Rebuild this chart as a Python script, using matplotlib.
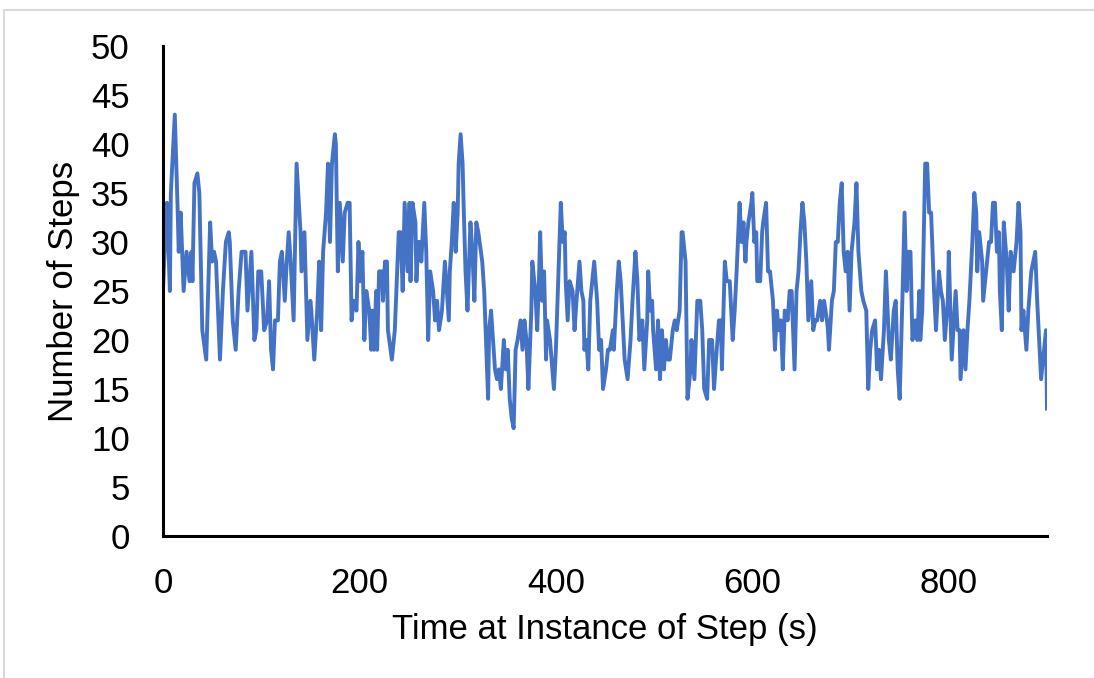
import matplotlib
matplotlib.use("Agg")
import matplotlib.pyplot as plt
from matplotlib.lines import Line2D

time_s = [0, 2, 4, 7, 8, 10, 12, 15, 16, 18, 21, 24, 27, 29, 30, 32, 35, 37, 40, 44,
          46, 48, 50, 52, 54, 58, 61, 64, 67, 68, 71, 74, 77, 80, 84, 86, 90, 93, 95, 97,
          100, 103, 106, 108, 110, 112, 114, 117, 119, 121, 124, 126, 128, 130, 133, 136, 140, 141, 144, 147,
          150, 151, 154, 157, 159, 161, 163, 166, 168, 170, 172, 175, 176, 178, 180, 183, 185, 188, 190, 192,
          194, 197, 199, 201, 203, 205, 207, 210, 212, 213, 215, 217, 218, 220, 223, 224, 226, 228, 229, 233,
          236, 240, 242, 244, 246, 249, 251, 252, 254, 257, 258, 260, 262, 263, 266, 268, 270, 272, 275, 277,
          279, 281, 284, 287, 289, 291, 292, 294, 296, 298, 300, 301, 303, 305, 306, 308, 310, 313, 315, 317,
          319, 321, 325, 327, 331, 332, 334, 336, 338, 340, 342, 344, 347, 349, 351, 353, 355, 357, 359, 361,
          364, 366, 368, 370, 372, 375, 376, 379, 381, 383, 384, 386, 388, 390, 391, 394, 398, 400, 403, 405,
          407, 409, 410, 412, 414, 417, 419, 421, 424, 426, 428, 429, 431, 433, 435, 437, 439, 442, 444, 446,
          448, 451, 453, 455, 458, 459, 462, 464, 466, 468, 470, 473, 476, 478, 481, 483, 485, 488, 490, 493,
          494, 496, 498, 499, 502, 504, 506, 508, 510, 512, 514, 516, 519, 521, 523, 526, 528, 529, 532, 534,
          537, 538, 541, 544, 547, 549, 551, 554, 556, 559, 561, 563, 566, 568, 569, 572, 574, 577, 580, 582,
          584, 587, 589, 591, 593, 594, 596, 599, 600, 602, 604, 605, 608, 610, 611, 614, 616, 618, 621, 623,
          625, 627, 629, 631, 633, 636, 638, 640, 643, 645, 647, 649, 651, 653, 655, 657, 660, 662, 664, 666,
          669, 671, 673, 676, 677, 678, 681, 683, 685, 687, 689, 691, 693, 695, 697, 699, 701, 704, 706, 708,
          711, 713, 716, 718, 720, 722, 725, 727, 729, 731, 734, 736, 739, 741, 744, 746, 748, 750, 753, 755,
          757, 759, 761, 763, 766, 768, 770, 771, 773, 776, 778, 780, 782, 785, 787, 790, 792, 794, 796, 799,
          800, 803, 807, 809, 811, 812, 815, 817, 819, 821, 824, 826, 828, 829, 831, 834, 835, 838, 841, 843,
          845, 847, 849, 851, 852, 854, 856, 859, 861, 863, 866, 869, 871, 873, 874, 876, 879, 881, 884, 886,
          888, 890, 894, 897, 899, 900]

steps = [25, 30, 34, 25, 35, 39, 43, 33, 29, 33, 25, 29, 26, 29, 26, 36, 37, 35, 21, 18,
         25, 32, 28, 29, 28, 18, 25, 30, 31, 30, 22, 19, 25, 29, 29, 23, 29, 20, 21, 27,
         27, 21, 22, 26, 19, 17, 22, 22, 28, 29, 24, 28, 31, 28, 22, 38, 31, 27, 31, 20,
         24, 23, 18, 23, 28, 21, 29, 33, 38, 30, 38, 41, 40, 27, 34, 28, 33, 34, 34, 22,
         24, 23, 30, 26, 29, 20, 25, 23, 19, 23, 19, 25, 19, 27, 27, 24, 28, 28, 21, 18,
         21, 31, 31, 25, 34, 27, 34, 26, 34, 32, 26, 30, 30, 28, 34, 29, 20, 27, 25, 22,
         24, 21, 23, 28, 25, 22, 27, 30, 34, 29, 33, 38, 41, 38, 34, 27, 23, 32, 29, 24,
         32, 31, 28, 25, 14, 21, 23, 20, 17, 16, 17, 15, 20, 17, 19, 14, 12, 11, 19, 20,
         22, 19, 22, 20, 15, 23, 28, 25, 21, 27, 31, 24, 27, 18, 22, 20, 15, 19, 28, 34,
         30, 31, 26, 22, 26, 25, 21, 24, 28, 25, 24, 19, 20, 17, 24, 26, 28, 24, 19, 20,
         15, 17, 19, 19, 21, 19, 25, 28, 26, 22, 18, 16, 20, 24, 29, 26, 20, 22, 17, 22,
         27, 23, 24, 21, 17, 22, 16, 21, 17, 20, 18, 18, 21, 22, 21, 23, 31, 31, 28, 14,
         17, 20, 16, 24, 24, 21, 15, 14, 20, 20, 15, 18, 22, 22, 17, 28, 26, 26, 20, 23,
         27, 34, 30, 32, 28, 30, 32, 34, 35, 30, 31, 26, 26, 31, 32, 34, 27, 27, 24, 19,
         23, 21, 22, 17, 23, 22, 25, 25, 17, 25, 27, 31, 34, 32, 28, 22, 26, 21, 22, 22,
         24, 22, 24, 22, 21, 19, 24, 25, 30, 30, 34, 36, 29, 27, 29, 23, 29, 32, 36, 29,
         25, 24, 23, 15, 19, 21, 22, 17, 19, 16, 21, 27, 20, 18, 23, 24, 17, 14, 25, 33,
         25, 29, 29, 20, 22, 20, 25, 20, 23, 38, 38, 33, 33, 25, 21, 27, 25, 24, 20, 24,
         29, 18, 25, 21, 21, 16, 21, 17, 21, 24, 30, 35, 33, 27, 31, 28, 24, 27, 30, 30,
         34, 34, 29, 31, 25, 21, 32, 28, 23, 29, 27, 30, 34, 31, 21, 23, 19, 23, 27, 28,
         29, 24, 16, 19, 21, 13]

x_ticks = [0, 200, 400, 600, 800]
y_ticks = [0, 5, 10, 15, 20, 25, 30, 35, 40, 45, 50]

plt.rcParams['font.family'] = ['Liberation Sans', 'DejaVu Sans']

W, H = 1094, 678
fig = plt.figure(figsize=(W / 100, H / 100), dpi=100)
ax = fig.add_axes([163 / W, 1 - 536 / H, (1047 - 163) / W, (536 - 46) / H])

ax.plot(time_s, steps, color='#4472C4', linewidth=2.8, solid_joinstyle='round')

ax.set_xlim(0, 900)
ax.set_ylim(0, 50)
ax.set_xticks(x_ticks)
ax.set_yticks(y_ticks)
ax.tick_params(axis='both', length=0, labelsize=25, colors='black')
ax.tick_params(axis='x', pad=22)
ax.tick_params(axis='y', pad=24)
for s in ['top', 'right']:
    ax.spines[s].set_visible(False)
for s in ['left', 'bottom']:
    ax.spines[s].set_linewidth(2.2)
    ax.spines[s].set_color('black')

ax.set_xlabel('Time at Instance of Step (s)', fontsize=25, labelpad=10)
ax.set_ylabel('Number of Steps', fontsize=25, labelpad=8)

# light chart-area border
fig.add_artist(Line2D([4 / W, 4 / W], [0, 1 - 10 / H], transform=fig.transFigure, color='#d9d9d9', lw=1.5))
fig.add_artist(Line2D([4 / W, 1], [1 - 10 / H, 1 - 10 / H], transform=fig.transFigure, color='#d9d9d9', lw=1.5))

fig.savefig('out.png', dpi=100, facecolor='white')
